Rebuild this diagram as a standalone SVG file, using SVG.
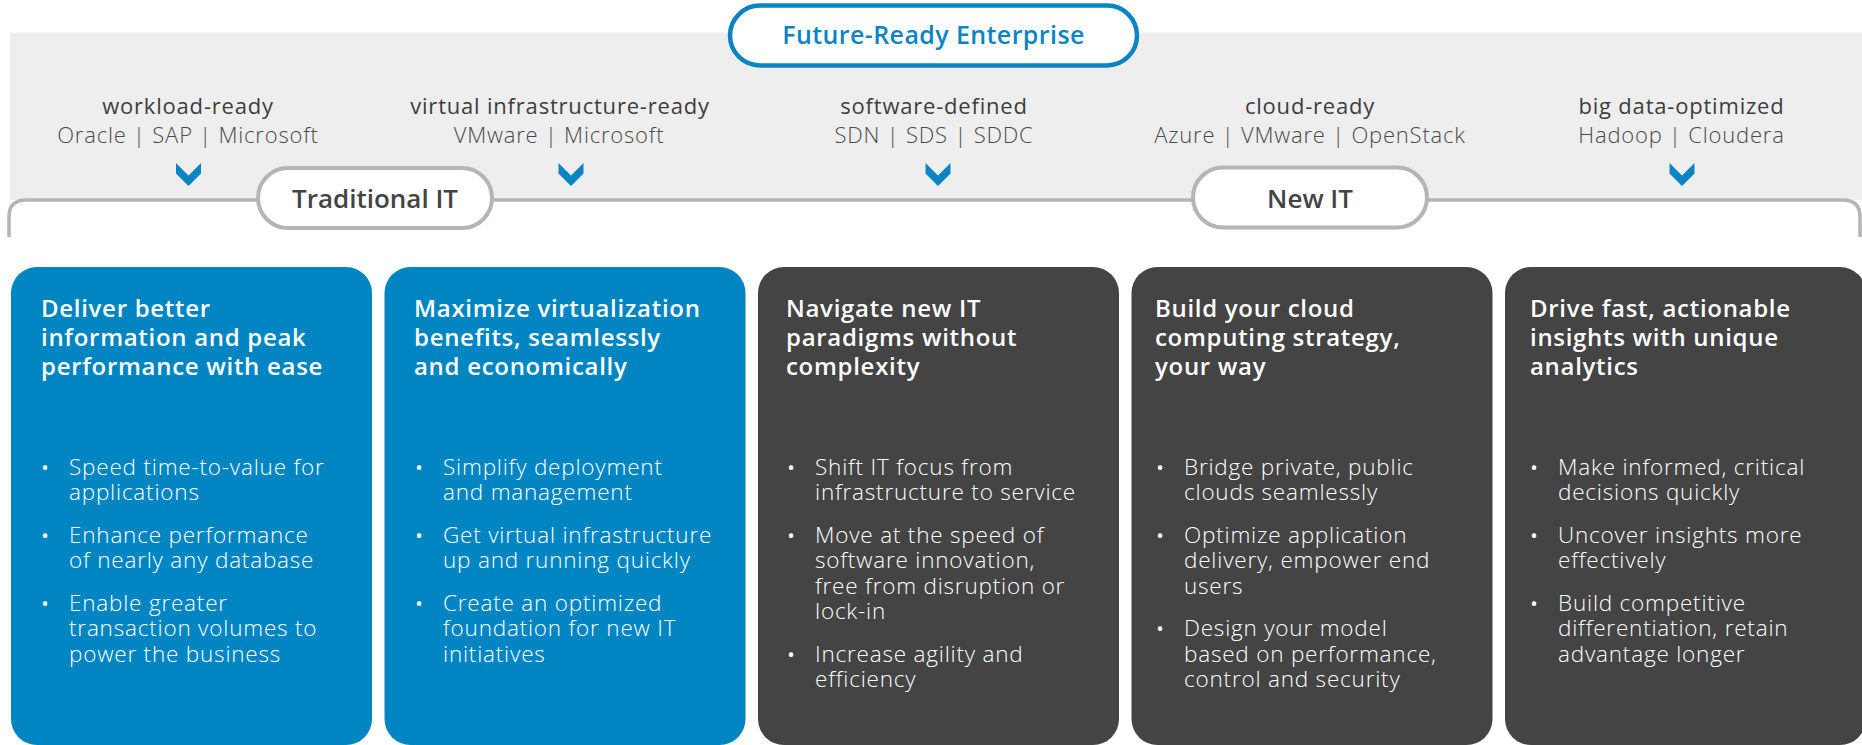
<svg xmlns="http://www.w3.org/2000/svg" width="1862" height="745" viewBox="0 0 1862 745">
<style>
text{font-family:"Open Sans","Noto Sans","Liberation Sans",sans-serif}
.band{fill:#eeeeee}
.conn{fill:none;stroke:#b5b5b5;stroke-width:3.5}
.pill{fill:#ffffff;stroke:#b5b5b5;stroke-width:4}
.pillf{fill:#ffffff;stroke:#0a84c3;stroke-width:4.5}
.pt{font-size:26px;font-weight:600;fill:#444444;text-anchor:middle}
.ptb{font-size:25px;font-weight:600;fill:#0a84c3;text-anchor:middle;letter-spacing:0.4px}
.lh{font-size:22px;font-weight:500;fill:#3d3d3d;text-anchor:middle;letter-spacing:0.8px}
.ls{font-size:22px;font-weight:300;fill:#4a4a4a;text-anchor:middle;letter-spacing:0.8px}
.chev{fill:#0a84c3}
.blue{fill:#0085c3}
.dark{fill:#444444}
.ttl{font-size:24px;font-weight:600;fill:#ffffff;letter-spacing:0.7px}
.bul{font-size:22.5px;font-weight:300;fill:#ffffff;letter-spacing:0.8px}
.dot{font-size:20px;fill:#ffffff;text-anchor:middle}
</style>
<defs>
<polygon id="chv" points="-12.5,0 0,12.5 12.5,0 12.5,10.5 0,23 -12.5,10.5"/>
</defs>
<rect class="band" x="10" y="32.5" width="1852" height="167.5"/>
<g id="connectors">
<path class="conn" d="M 9 237 L 9 217 Q 9 200 26 200 L 1843 200 Q 1860 200 1860 217 L 1860 237"/>
</g>
<g id="future-ready">
<rect class="pillf" x="730" y="5.5" width="407" height="60" rx="30"/>
<text class="ptb" x="933.5" y="44">Future-Ready Enterprise</text>
</g>
<g id="label-workload">
<text class="lh" x="188" y="114">workload-ready</text>
<text class="ls" x="188" y="143">Oracle | SAP | Microsoft</text>
<use href="#chv" class="chev" x="188.5" y="163"/>
</g>
<g id="label-virtual">
<text class="lh" x="560" y="114">virtual infrastructure-ready</text>
<text class="ls" x="559" y="143">VMware | Microsoft</text>
<use href="#chv" class="chev" x="571" y="163"/>
</g>
<g id="label-software">
<text class="lh" x="934" y="114">software-defined</text>
<text class="ls" x="934" y="143">SDN | SDS | SDDC</text>
<use href="#chv" class="chev" x="938" y="163"/>
</g>
<g id="label-cloud">
<text class="lh" x="1310" y="114">cloud-ready</text>
<text class="ls" x="1310" y="143">Azure | VMware | OpenStack</text>
</g>
<g id="label-bigdata">
<text class="lh" x="1681.5" y="114">big data-optimized</text>
<text class="ls" x="1681.5" y="143">Hadoop | Cloudera</text>
<use href="#chv" class="chev" x="1682" y="163"/>
</g>
<g id="traditional-it">
<rect class="pill" x="258" y="168" width="234" height="60" rx="30"/>
<text class="pt" x="375" y="208">Traditional IT</text>
</g>
<g id="new-it">
<rect class="pill" x="1193" y="167.5" width="234" height="60" rx="30"/>
<text class="pt" x="1310" y="208">New IT</text>
</g>
<g id="card-1">
<rect class="blue" x="11" y="267" width="361" height="478" rx="26"/>
<text class="ttl" y="317"><tspan x="41">Deliver better</tspan><tspan x="41" dy="29">information and peak</tspan><tspan x="41" dy="29">performance with ease</tspan></text>
<text class="dot" x="45" y="475">•</text>
<text class="bul" y="475"><tspan x="69">Speed time-to-value for</tspan><tspan x="69" dy="25.3">applications</tspan></text>
<text class="dot" x="45" y="543">•</text>
<text class="bul" y="543"><tspan x="69">Enhance performance</tspan><tspan x="69" dy="25.3">of nearly any database</tspan></text>
<text class="dot" x="45" y="611">•</text>
<text class="bul" y="611"><tspan x="69">Enable greater</tspan><tspan x="69" dy="25.3">transaction volumes to</tspan><tspan x="69" dy="25.3">power the business</tspan></text>
</g>
<g id="card-2">
<rect class="blue" x="384.5" y="267" width="361" height="478" rx="26"/>
<text class="ttl" y="317"><tspan x="414">Maximize virtualization</tspan><tspan x="414" dy="29">benefits, seamlessly</tspan><tspan x="414" dy="29">and economically</tspan></text>
<text class="dot" x="419" y="475">•</text>
<text class="bul" y="475"><tspan x="443">Simplify deployment</tspan><tspan x="443" dy="25.3">and management</tspan></text>
<text class="dot" x="419" y="543">•</text>
<text class="bul" y="543"><tspan x="443">Get virtual infrastructure</tspan><tspan x="443" dy="25.3">up and running quickly</tspan></text>
<text class="dot" x="419" y="611">•</text>
<text class="bul" y="611"><tspan x="443">Create an optimized</tspan><tspan x="443" dy="25.3">foundation for new IT</tspan><tspan x="443" dy="25.3">initiatives</tspan></text>
</g>
<g id="card-3">
<rect class="dark" x="758" y="267" width="361" height="478" rx="26"/>
<text class="ttl" y="317"><tspan x="786">Navigate new IT</tspan><tspan x="786" dy="29">paradigms without</tspan><tspan x="786" dy="29">complexity</tspan></text>
<text class="dot" x="791" y="475">•</text>
<text class="bul" y="475"><tspan x="815">Shift IT focus from</tspan><tspan x="815" dy="25.3">infrastructure to service</tspan></text>
<text class="dot" x="791" y="543">•</text>
<text class="bul" y="543"><tspan x="815">Move at the speed of</tspan><tspan x="815" dy="25.3">software innovation,</tspan><tspan x="815" dy="25.3">free from disruption or</tspan><tspan x="815" dy="25.3">lock-in</tspan></text>
<text class="dot" x="791" y="661.7">•</text>
<text class="bul" y="661.7"><tspan x="815">Increase agility and</tspan><tspan x="815" dy="25.3">efficiency</tspan></text>
</g>
<g id="card-4">
<rect class="dark" x="1131.5" y="267" width="361" height="478" rx="26"/>
<text class="ttl" y="317"><tspan x="1155">Build your cloud</tspan><tspan x="1155" dy="29">computing strategy,</tspan><tspan x="1155" dy="29">your way</tspan></text>
<text class="dot" x="1160" y="475">•</text>
<text class="bul" y="475"><tspan x="1184">Bridge private, public</tspan><tspan x="1184" dy="25.3">clouds seamlessly</tspan></text>
<text class="dot" x="1160" y="543">•</text>
<text class="bul" y="543"><tspan x="1184">Optimize application</tspan><tspan x="1184" dy="25.3">delivery, empower end</tspan><tspan x="1184" dy="25.3">users</tspan></text>
<text class="dot" x="1160" y="636.4">•</text>
<text class="bul" y="636.4"><tspan x="1184">Design your model</tspan><tspan x="1184" dy="25.3">based on performance,</tspan><tspan x="1184" dy="25.3">control and security</tspan></text>
</g>
<g id="card-5">
<rect class="dark" x="1505" y="267" width="361" height="478" rx="26"/>
<text class="ttl" y="317"><tspan x="1530">Drive fast, actionable</tspan><tspan x="1530" dy="29">insights with unique</tspan><tspan x="1530" dy="29">analytics</tspan></text>
<text class="dot" x="1534" y="475">•</text>
<text class="bul" y="475"><tspan x="1558">Make informed, critical</tspan><tspan x="1558" dy="25.3">decisions quickly</tspan></text>
<text class="dot" x="1534" y="543">•</text>
<text class="bul" y="543"><tspan x="1558">Uncover insights more</tspan><tspan x="1558" dy="25.3">effectively</tspan></text>
<text class="dot" x="1534" y="611">•</text>
<text class="bul" y="611"><tspan x="1558">Build competitive</tspan><tspan x="1558" dy="25.3">differentiation, retain</tspan><tspan x="1558" dy="25.3">advantage longer</tspan></text>
</g>
</svg>
